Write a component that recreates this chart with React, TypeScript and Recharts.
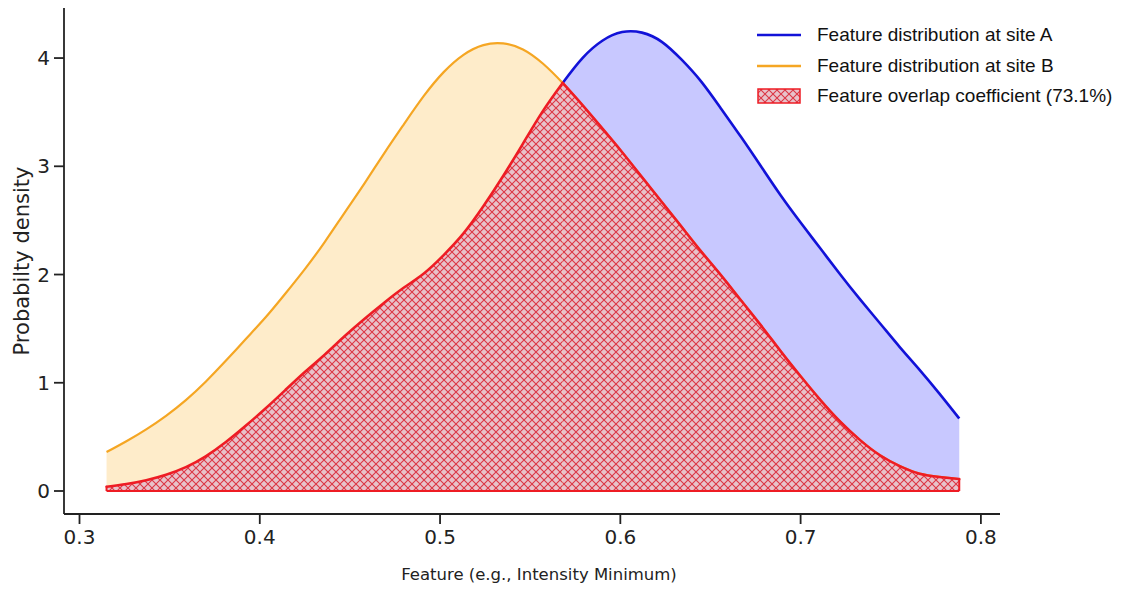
import { ComposedChart, Area, XAxis, YAxis, Legend, ReferenceLine } from "recharts";

// values (feature value -> density), evenly spaced samples
const featureValues = [
  0.315, 0.326, 0.337, 0.348, 0.359, 0.37, 0.381, 0.392, 0.403, 0.414, 0.425,
  0.436, 0.447, 0.458, 0.469, 0.48, 0.491, 0.502, 0.513, 0.524, 0.535, 0.546,
  0.557, 0.568, 0.579, 0.59, 0.601, 0.612, 0.623, 0.634, 0.645, 0.656, 0.667,
  0.678, 0.689, 0.7, 0.711, 0.722, 0.733, 0.744, 0.755, 0.766, 0.777, 0.788,
];
const siteA = [
  0.04, 0.065, 0.1, 0.15, 0.22, 0.32, 0.45, 0.6, 0.76, 0.93, 1.1,
  1.26, 1.43, 1.59, 1.74, 1.88, 2.01, 2.18, 2.38, 2.63, 2.91, 3.21,
  3.51, 3.77, 4.0, 4.16, 4.24, 4.235, 4.15, 3.985, 3.78, 3.53, 3.27,
  3.0, 2.73, 2.48, 2.24, 2.0, 1.77, 1.55, 1.33, 1.12, 0.9, 0.67,
];
const siteB = [
  0.36, 0.46, 0.57, 0.695, 0.84, 1.01, 1.2, 1.4, 1.6, 1.82, 2.05,
  2.3, 2.57, 2.84, 3.12, 3.39, 3.65, 3.87, 4.03, 4.12, 4.135, 4.08,
  3.95, 3.77, 3.565, 3.35, 3.13, 2.9, 2.67, 2.44, 2.21, 1.99, 1.76,
  1.53, 1.29, 1.06, 0.84, 0.64, 0.47, 0.33, 0.23, 0.16, 0.13, 0.11,
];
const overlap = [
  0.04, 0.065, 0.1, 0.15, 0.22, 0.32, 0.45, 0.6, 0.76, 0.93, 1.1,
  1.26, 1.43, 1.59, 1.74, 1.88, 2.01, 2.18, 2.38, 2.63, 2.91, 3.21,
  3.51, 3.77, 3.565, 3.35, 3.13, 2.9, 2.67, 2.44, 2.21, 1.99, 1.76,
  1.53, 1.29, 1.06, 0.84, 0.64, 0.47, 0.33, 0.23, 0.16, 0.13, 0.11,
];
// where the two densities cross
const crossing = 0.568;
const xTicks = [0.3, 0.4, 0.5, 0.6, 0.7, 0.8];
const yTicks = [0, 1, 2, 3, 4];
const legendLabels = [
  "Feature distribution at site A",
  "Feature distribution at site B",
  "Feature overlap coefficient (73.1%)",
];

// overlap split at the crossing so the corner stays sharp
const data = featureValues.map((x, i) => ({
  x,
  a: siteA[i],
  b: siteB[i],
  ovLeft: x <= crossing ? overlap[i] : null,
  ovRight: x >= crossing ? overlap[i] : null,
}));

const BLUE = "#1212d8";
const ORANGE = "#f5a623";
const RED = "#ee1c24";
const tickFont = { fontFamily: '"DejaVu Sans", sans-serif', fontSize: 20, fill: "#222" };

function HatchPattern({ id }: { id: string }) {
  return (
    <pattern id={id} width={8} height={8} patternUnits="userSpaceOnUse">
      <rect width={8} height={8} fill="#e8c2ca" />
      <path d="M0,0 L8,8 M8,0 L0,8" stroke="#dc3644" strokeWidth={1.1} />
    </pattern>
  );
}

function LegendBox() {
  return (
    <div style={{ fontFamily: '"Liberation Sans", Arial, sans-serif', fontSize: 19, color: "#111" }}>
      {legendLabels.map((label, i) => (
        <div key={label} style={{ display: "flex", alignItems: "center", height: 30.5 }}>
          <svg width={44} height={20} style={{ marginRight: 16 }}>
            {i === 2 ? (
              <>
                <defs>
                  <HatchPattern id="hatchLegend" />
                </defs>
                <rect x={1} y={3} width={42} height={14} fill="url(#hatchLegend)" stroke={RED} strokeWidth={1.5} />
              </>
            ) : (
              <line x1={0} x2={44} y1={10} y2={10} stroke={i === 0 ? BLUE : ORANGE} strokeWidth={2.5} />
            )}
          </svg>
          <span>{label}</span>
        </div>
      ))}
    </div>
  );
}

function YLabel(props: any) {
  const { viewBox } = props;
  const cy = viewBox.y + viewBox.height / 2;
  return (
    <text
      x={22}
      y={cy}
      transform={`rotate(-90, 22, ${cy})`}
      textAnchor="middle"
      dominantBaseline="central"
      style={{ fontFamily: '"DejaVu Sans", sans-serif', fontSize: 21, fill: "#222" }}
    >
      Probabilty density
    </text>
  );
}

function XLabel(props: any) {
  const { viewBox } = props;
  return (
    <text
      x={viewBox.x + viewBox.width / 2 + 7}
      y={viewBox.y + 66}
      textAnchor="middle"
      style={{ fontFamily: '"DejaVu Sans", sans-serif', fontSize: 16.5, fill: "#222" }}
    >
      Feature (e.g., Intensity Minimum)
    </text>
  );
}

export default function App() {
  const first = featureValues[0];
  const last = featureValues[featureValues.length - 1];
  return (
    <div style={{ position: "absolute", left: 0, top: 0, width: 1128, height: 589, background: "#fff" }}>
      <ComposedChart width={1128} height={589} data={data} margin={{ top: 8, right: 128, left: 8, bottom: 5 }}>
        <defs>
          <HatchPattern id="hatch" />
        </defs>
        <XAxis
          type="number"
          dataKey="x"
          domain={[0.2914, 0.8106]}
          ticks={xTicks}
          allowDataOverflow
          tickFormatter={(v: number) => v.toFixed(1)}
          height={70}
          tickSize={10}
          tickMargin={6}
          stroke="#222"
          strokeWidth={1.8}
          tick={tickFont}
          label={<XLabel />}
        />
        <YAxis
          type="number"
          domain={[-0.2125, 4.4625]}
          ticks={yTicks}
          allowDataOverflow
          width={56}
          tickSize={10}
          tickMargin={4}
          stroke="#222"
          strokeWidth={1.8}
          tick={tickFont}
          label={<YLabel />}
        />
        <Area
          type="natural"
          dataKey="a"
          stroke={BLUE}
          strokeWidth={2.6}
          fill="#c8c8ff"
          fillOpacity={1}
          baseValue={0}
          isAnimationActive={false}
        />
        <Area
          type="natural"
          dataKey="b"
          stroke={ORANGE}
          strokeWidth={2.2}
          fill="#feecca"
          fillOpacity={1}
          baseValue={0}
          isAnimationActive={false}
        />
        <Area
          type="natural"
          dataKey="ovLeft"
          stroke={RED}
          strokeWidth={2.6}
          strokeLinecap="round"
          fill="url(#hatch)"
          fillOpacity={1}
          baseValue={0}
          isAnimationActive={false}
        />
        <Area
          type="natural"
          dataKey="ovRight"
          stroke={RED}
          strokeWidth={2.6}
          strokeLinecap="round"
          fill="url(#hatch)"
          fillOpacity={1}
          baseValue={0}
          isAnimationActive={false}
        />
        <ReferenceLine segment={[{ x: first, y: 0 }, { x: last, y: 0 }]} stroke={RED} strokeWidth={2} />
        <ReferenceLine segment={[{ x: last, y: 0 }, { x: last, y: overlap[overlap.length - 1] }]} stroke={RED} strokeWidth={2} />
        <ReferenceLine segment={[{ x: first, y: 0 }, { x: first, y: overlap[0] }]} stroke={RED} strokeWidth={2} />
        <Legend
          layout="vertical"
          align="center"
          verticalAlign="middle"
          content={<LegendBox />}
          wrapperStyle={{ top: 20, left: 757, width: 371, bottom: "auto", right: "auto" }}
        />
      </ComposedChart>
    </div>
  );
}
